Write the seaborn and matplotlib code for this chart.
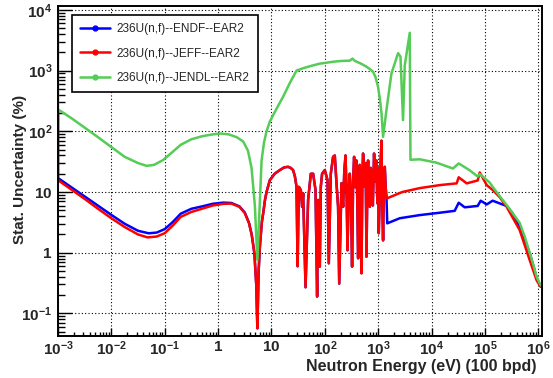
import numpy as np
import pandas as pd
import matplotlib
matplotlib.use('Agg')
import matplotlib.pyplot as plt
from matplotlib.lines import Line2D
from matplotlib.ticker import FixedLocator, FixedFormatter, LogLocator, NullFormatter
import seaborn as sns

sns.set_theme(style='white')
plt.rcParams['font.family'] = ['Liberation Sans', 'DejaVu Sans']
plt.rcParams['mathtext.fontset'] = 'custom'
plt.rcParams['mathtext.rm'] = 'Liberation Sans:bold'
plt.rcParams['mathtext.bf'] = 'Liberation Sans:bold'
plt.rcParams['mathtext.it'] = 'Liberation Sans:bold'

# ---- data (log10 of neutron energy in eV, uncertainty in %) ----
blue_logE_low = [-3.0, -3.0, -2.75, -2.5, -2.25, -2.0, -1.75, -1.5, -1.3, -1.15, -1.0, -0.85,
                 -0.7, -0.5, -0.3, -0.1, 0.1, 0.25, 0.4, 0.5, 0.58, 0.63, 0.68, 0.715]
blue_low = [230, 17, 12, 8.5, 6.0, 4.2, 3.0, 2.3, 2.09, 2.15, 2.45, 3.2,
            4.4, 5.3, 5.8, 6.4, 6.7, 6.6, 5.8, 4.6, 3.1, 2.0, 1.0, 0.3]

red_logE_low = [-3.0, -3.0, -2.75, -2.5, -2.25, -2.0, -1.75, -1.5, -1.32, -1.15, -1.0, -0.85,
                -0.7, -0.5, -0.3, -0.1, 0.1, 0.25, 0.4, 0.5, 0.58, 0.63, 0.68, 0.715]
red_low = [230, 15.7, 11, 7.7, 5.3, 3.7, 2.65, 2.0, 1.79, 1.85, 2.1, 2.8,
           3.9, 4.7, 5.3, 6.0, 6.4, 6.45, 5.7, 4.5, 3.05, 1.95, 0.98, 0.3]

# resonance region, common to ENDF and JEFF
res_logE = [0.736, 0.76, 0.783, 0.82, 0.845, 0.88, 0.908, 0.97, 1.06, 1.157, 1.24, 1.313,
            1.36, 1.406, 1.44, 1.47, 1.49, 1.513, 1.55, 1.575, 1.594, 1.639, 1.687, 1.738,
            1.781, 1.826, 1.856, 1.874, 1.906, 1.925, 1.949, 2.0, 2.05, 2.075, 2.112, 2.155,
            2.187, 2.219, 2.249, 2.27, 2.313, 2.343, 2.365, 2.388, 2.41, 2.425, 2.45, 2.468,
            2.49, 2.511, 2.53, 2.549, 2.57, 2.594, 2.61, 2.624, 2.655, 2.67, 2.687, 2.705,
            2.717, 2.735, 2.749, 2.765, 2.781, 2.80, 2.811, 2.825, 2.843, 2.86, 2.886, 2.90,
            2.923, 2.945, 2.968, 2.978, 2.987, 3.0, 3.011, 3.03, 3.045, 3.062, 3.075, 3.092,
            3.11, 3.124, 3.14, 3.155]
res_val = [0.057, 0.5, 1.25, 3.2, 4.45, 7.5, 10, 15.7, 20, 23, 25.5, 26,
           25, 23, 18, 12.2, 0.6, 12.2, 10.8, 5.7, 9.5, 0.27, 7.4, 20,
           20, 10.8, 0.19, 7.4, 0.59, 12.2, 20, 23, 15.8, 0.67, 20, 38,
           40, 13.9, 5.7, 0.31, 14, 5.7, 22, 40, 8, 1.1, 12, 20,
           7, 0.59, 15, 38, 12, 33, 6, 0.81, 28, 9, 0.46, 20,
           43, 25, 12.2, 30, 0.86, 20, 33, 14, 5.7, 25, 18, 6,
           43, 15, 33, 10, 6.5, 25, 2.1, 9.5, 30, 70, 8, 1.6,
           20, 26, 12, 8.4]

blue_logE_high = [3.17, 3.404, 3.779, 4.153, 4.434, 4.509, 4.622, 4.865, 4.921, 5.034, 5.146,
                  5.277, 5.408, 5.52, 5.652, 5.75, 5.839, 5.91, 5.97, 6.045]
blue_high = [3.05, 3.7, 4.17, 4.56, 4.9, 6.66, 5.6, 5.9, 7.2, 6.25, 7.2,
             6.5, 5.9, 4.45, 2.68, 1.6, 0.98, 0.6, 0.38, 0.28]

red_logE_high = [3.17, 3.45, 3.779, 4.153, 4.471, 4.509, 4.659, 4.865, 4.903, 5.034, 5.146,
                 5.28, 5.408, 5.52, 5.652, 5.75, 5.839, 5.91, 5.97, 6.045]
red_high = [7.9, 10, 11.6, 13.0, 13.9, 17.5, 13.9, 15.5, 21, 13, 10.8,
            8.2, 5.7, 3.8, 2.36, 1.3, 0.76, 0.5, 0.35, 0.275]

green_logE = [-3.0, -3.0, -2.75, -2.5, -2.25, -2.0, -1.75, -1.5, -1.34, -1.2, -1.03, -0.85,
              -0.7, -0.5, -0.3, -0.1, 0.05, 0.2, 0.35, 0.47, 0.56, 0.627, 0.689, 0.736,
              0.78, 0.815, 0.86, 0.908, 0.97, 1.1, 1.219, 1.35, 1.47, 1.6, 1.719, 1.9,
              2.155, 2.3, 2.468, 2.519, 2.56, 2.68, 2.781, 2.85, 2.904, 2.95, 2.998, 3.03,
              3.062, 3.092, 3.155, 3.249, 3.373, 3.418, 3.466, 3.498, 3.592, 3.605, 3.779,
              4.091, 4.402, 4.509, 4.715, 4.865, 4.903, 5.09, 5.146, 5.28, 5.408, 5.52,
              5.652, 5.75, 5.839, 5.91, 5.97, 6.045]
green_val = [2e4, 230, 165, 115, 80, 55, 38, 30, 27, 28, 33.7, 46,
             60, 74, 83, 89, 92, 89, 80, 68, 48, 25, 6, 0.76,
             6, 33, 65, 100, 145, 240, 372, 640, 1000, 1100, 1180, 1300,
             1400, 1440, 1460, 1580, 1450, 1300, 1160, 1050, 960, 780, 540, 350,
             200, 81, 224, 900, 1940, 1700, 153, 1220, 4200, 34, 34.6,
             30.5, 24.4, 29.6, 22.8, 18, 19.8, 14.3, 12.2, 8.5, 6.1, 4.5,
             3.1, 1.8, 1.0, 0.62, 0.40, 0.29]

labels = ['236U(n,f)--ENDF--EAR2', '236U(n,f)--JEFF--EAR2', '236U(n,f)--JENDL--EAR2']
colors = ['#0000ff', '#ff0000', '#55cc55']

blue_logE = blue_logE_low + res_logE + blue_logE_high
blue_val = blue_low + res_val + blue_high
red_logE = red_logE_low + res_logE + red_logE_high
red_val = red_low + res_val + red_high

frames = []
for lab, le, v in zip(labels, [blue_logE, red_logE, green_logE], [blue_val, red_val, green_val]):
    frames.append(pd.DataFrame({'E': 10 ** np.array(le), 'unc': v, 'series': lab}))
df = pd.concat(frames, ignore_index=True)

fig = plt.figure(figsize=(5.53, 3.78), dpi=100)
ax = fig.add_axes([58 / 553, (378 - 335.7) / 378, (541.7 - 58) / 553, (335.7 - 6) / 378])

sns.lineplot(data=df, x='E', y='unc', hue='series', palette=colors, hue_order=labels,
             estimator=None, sort=False, lw=1.8, legend=False, ax=ax)

ax.set_xscale('log')
ax.set_yscale('log')
ax.set_xlim(1e-3, 1.16e6)
ax.set_ylim(0.043, 1.16e4)

xt = [1e-3, 1e-2, 1e-1, 1, 10, 1e2, 1e3, 1e4, 1e5, 1e6]
xtl = [r'$10^{-3}$', r'$10^{-2}$', r'$10^{-1}$', r'$1$', r'$10$', r'$10^{2}$', r'$10^{3}$',
       r'$10^{4}$', r'$10^{5}$', r'$10^{6}$']
yt = [1e-1, 1, 10, 1e2, 1e3, 1e4]
ytl = [r'$10^{-1}$', r'$1$', r'$10$', r'$10^{2}$', r'$10^{3}$', r'$10^{4}$']
ax.xaxis.set_major_locator(FixedLocator(xt))
ax.xaxis.set_major_formatter(FixedFormatter(xtl))
ax.yaxis.set_major_locator(FixedLocator(yt))
ax.yaxis.set_major_formatter(FixedFormatter(ytl))
ax.xaxis.set_minor_locator(LogLocator(base=10, subs=np.arange(2, 10), numticks=30))
ax.yaxis.set_minor_locator(LogLocator(base=10, subs=np.arange(2, 10), numticks=30))
ax.xaxis.set_minor_formatter(NullFormatter())
ax.yaxis.set_minor_formatter(NullFormatter())

ax.tick_params(axis='x', which='major', direction='in', length=6, width=1.0, labelsize=11, pad=3, color='black')
ax.tick_params(axis='x', which='minor', direction='in', length=3, width=1.0, color='black')
ax.tick_params(axis='y', which='major', direction='in', length=10, width=1.0, labelsize=11, pad=4, color='black')
ax.tick_params(axis='y', which='minor', direction='in', length=5, width=1.0, color='black')
ax.tick_params(bottom=True, left=True, top=False, right=False, which='both')

ax.grid(True, which='major', color='black', linestyle=(0, (1, 2)), linewidth=0.8)
for sp in ax.spines.values():
    sp.set_color('black')
    sp.set_linewidth(1.4)

ax.set_xlabel('')
ax.set_ylabel('')
fig.text(537 / 553, (378 - 367) / 378, 'Neutron Energy (eV) (100 bpd)', ha='right', va='center',
         fontsize=11.5, fontweight='bold')
fig.text(20 / 553, (378 - 169) / 378, 'Stat. Uncertainty (%)', ha='center', va='center',
         rotation=90, fontsize=11, fontweight='bold')

handles = [Line2D([], [], color=c, lw=1.8, marker='o', markersize=3.5) for c in colors]
leg = ax.legend(handles, labels, loc='upper left', bbox_to_anchor=(0.029, 0.973),
                borderaxespad=0, fontsize=8.5, frameon=True, fancybox=False,
                handlelength=2.5, handletextpad=0.6, labelspacing=1.05, borderpad=0.7)
leg.get_frame().set_edgecolor('black')
leg.get_frame().set_linewidth(1.2)
leg.get_frame().set_facecolor('white')
leg.get_frame().set_alpha(1)

fig.savefig('out.png', dpi=100, facecolor='white')
